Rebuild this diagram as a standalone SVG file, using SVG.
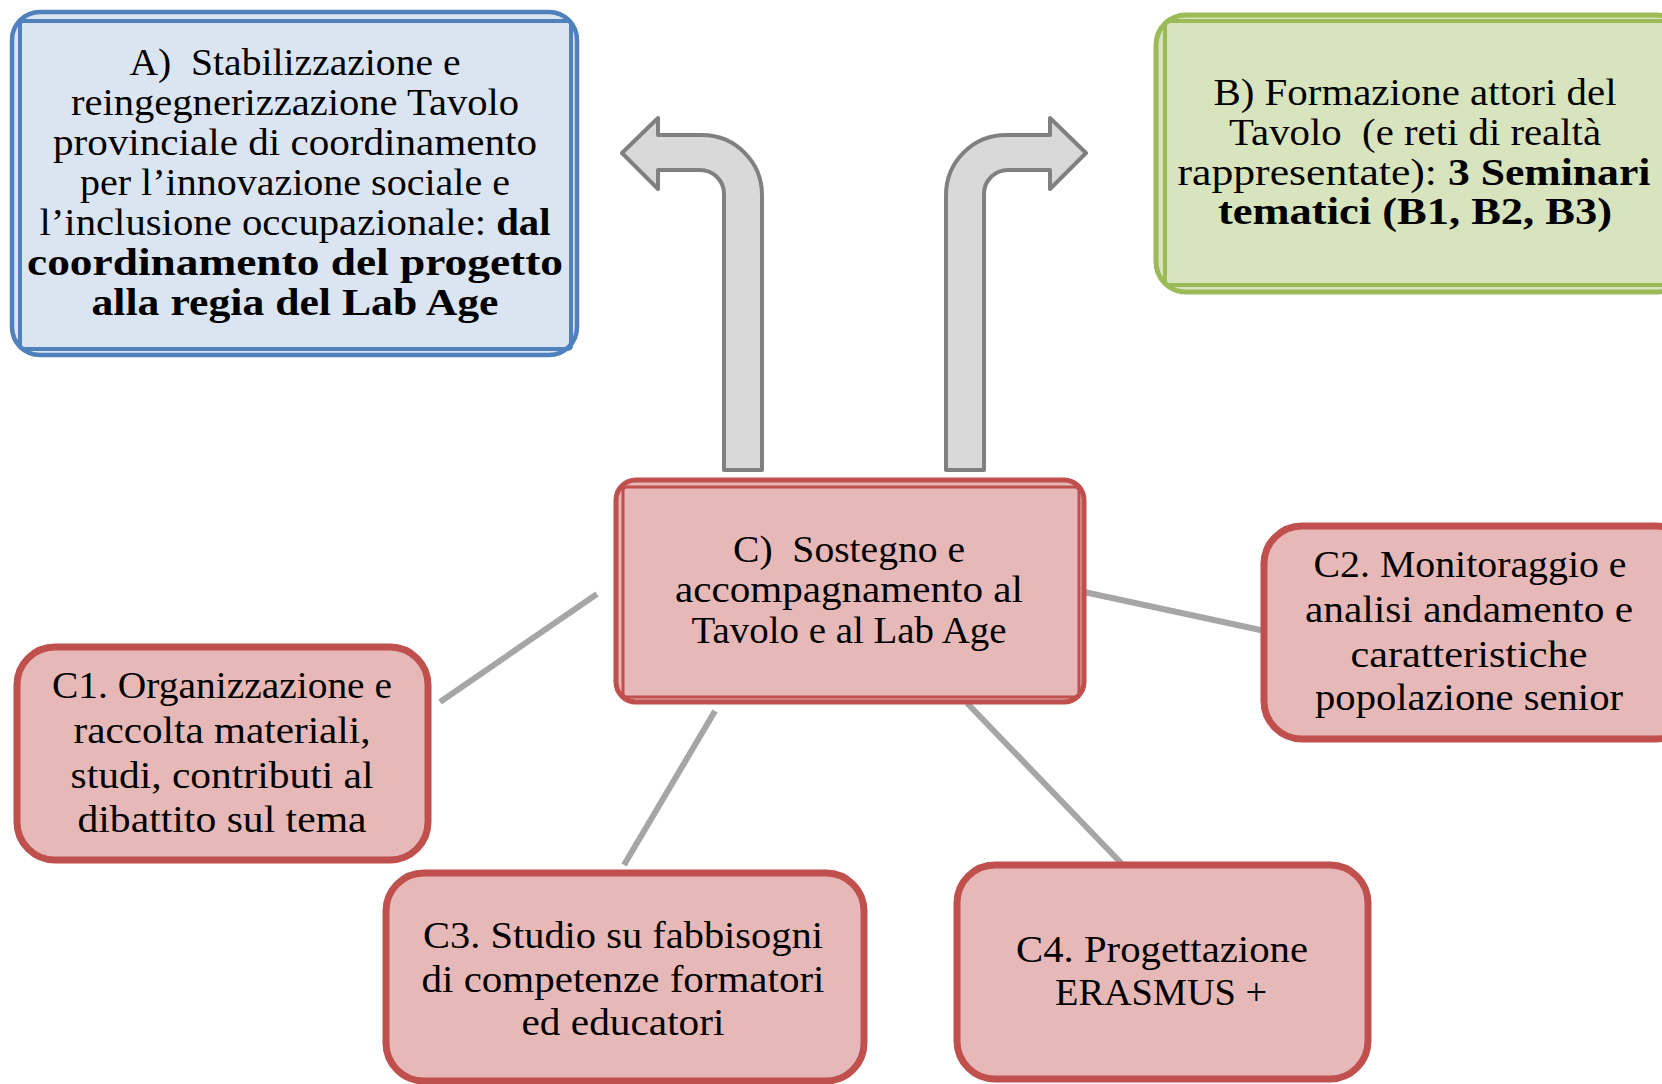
<svg xmlns="http://www.w3.org/2000/svg" width="1662" height="1084" viewBox="0 0 1662 1084">
<style>
text{font-family:"Liberation Serif","Times New Roman",serif;font-size:37px;fill:#000;text-anchor:middle}
.s{font-size:38px}
.b{font-weight:bold}
.conn{stroke:#A6A6A6;stroke-width:6;fill:none}
.arrow{fill:#D9D9D9;stroke:#808080;stroke-width:4;stroke-linejoin:round}
.redbox{fill:#E6B9B8;stroke:#C0504D;stroke-width:7}
</style>
<rect width="1662" height="1084" fill="#FFFFFF"/>
<g id="connectors">
<line class="conn" x1="597" y1="594" x2="440" y2="702"/>
<line class="conn" x1="1084" y1="592" x2="1265" y2="631"/>
<line class="conn" x1="715" y1="711" x2="624" y2="865"/>
<line class="conn" x1="967" y1="703" x2="1123" y2="865"/>
<path class="arrow" d="M724 470 L762 470 L762 195 A60 60 0 0 0 702 135 L658 135 L658 118 L622 153 L658 189 L658 170 L700 170 A24 24 0 0 1 724 194 Z"/>
<path class="arrow" d="M984 470 L946 470 L946 195 A60 60 0 0 1 1006 135 L1050 135 L1050 118 L1086 153 L1050 189 L1050 170 L1008 170 A24 24 0 0 0 984 194 Z"/>
</g>
<g id="nodeA">
<rect x="12" y="12" width="565" height="343" rx="28" fill="#DBE5F1" stroke="#4F81BD" stroke-width="4.5"/>
<rect x="20" y="21" width="551" height="328" rx="3" fill="none" stroke="#4F81BD" stroke-width="4"/>
<text x="295" y="75" xml:space="preserve" textLength="331" lengthAdjust="spacingAndGlyphs">A)  Stabilizzazione e</text>
<text x="295" y="115" textLength="448" lengthAdjust="spacingAndGlyphs">reingegnerizzazione Tavolo</text>
<text x="295" y="155" textLength="484" lengthAdjust="spacingAndGlyphs">provinciale di coordinamento</text>
<text x="295" y="195" textLength="430" lengthAdjust="spacingAndGlyphs">per l’innovazione sociale e</text>
<text x="295" y="235" xml:space="preserve" textLength="511" lengthAdjust="spacingAndGlyphs">l’inclusione occupazionale: <tspan class="b">dal</tspan></text>
<text x="295" y="275" class="b" textLength="536" lengthAdjust="spacingAndGlyphs">coordinamento del progetto</text>
<text x="295" y="315" class="b" textLength="407" lengthAdjust="spacingAndGlyphs">alla regia del Lab Age</text>
</g>
<g id="nodeB">
<rect x="1156" y="15" width="530" height="277" rx="30" fill="#D7E4BD" stroke="#9BBB59" stroke-width="5"/>
<rect x="1165" y="21" width="520" height="264" rx="3" fill="none" stroke="#9BBB59" stroke-width="4"/>
<text x="1415" y="105" textLength="403" lengthAdjust="spacingAndGlyphs">B) Formazione attori del</text>
<text x="1415" y="145" xml:space="preserve" textLength="372" lengthAdjust="spacingAndGlyphs">Tavolo  (e reti di realtà</text>
<text x="1414" y="185" xml:space="preserve" textLength="473" lengthAdjust="spacingAndGlyphs">rappresentate): <tspan class="b">3 Seminari</tspan></text>
<text x="1415" y="224" class="b" textLength="394" lengthAdjust="spacingAndGlyphs">tematici (B1, B2, B3)</text>
</g>
<g id="nodeC">
<rect x="616" y="480" width="468" height="222" rx="20" fill="#E6B9B8" stroke="#C0504D" stroke-width="5"/>
<rect x="623" y="487" width="456" height="210" rx="4" fill="none" stroke="#C0504D" stroke-width="3"/>
<text x="849" y="562" xml:space="preserve" textLength="232" lengthAdjust="spacingAndGlyphs">C)  Sostegno e</text>
<text x="849" y="602" textLength="348" lengthAdjust="spacingAndGlyphs">accompagnamento al</text>
<text x="849" y="643" textLength="315" lengthAdjust="spacingAndGlyphs">Tavolo e al Lab Age</text>
</g>
<g id="nodeC1">
<rect class="redbox" x="17" y="647" width="411" height="213" rx="38"/>
<text class="s" x="222" y="698" textLength="340" lengthAdjust="spacingAndGlyphs">C1. Organizzazione e</text>
<text class="s" x="222" y="743" textLength="297" lengthAdjust="spacingAndGlyphs">raccolta materiali,</text>
<text class="s" x="222" y="788" textLength="303" lengthAdjust="spacingAndGlyphs">studi, contributi al</text>
<text class="s" x="222" y="832" textLength="289" lengthAdjust="spacingAndGlyphs">dibattito sul tema</text>
</g>
<g id="nodeC2">
<rect class="redbox" x="1264" y="526" width="430" height="213" rx="38"/>
<text class="s" x="1470" y="577" textLength="313" lengthAdjust="spacingAndGlyphs">C2. Monitoraggio e</text>
<text class="s" x="1469" y="622" textLength="328" lengthAdjust="spacingAndGlyphs">analisi andamento e</text>
<text class="s" x="1469" y="667" textLength="237" lengthAdjust="spacingAndGlyphs">caratteristiche</text>
<text class="s" x="1469" y="710" textLength="308" lengthAdjust="spacingAndGlyphs">popolazione senior</text>
</g>
<g id="nodeC3">
<rect class="redbox" x="386" y="873" width="478" height="208" rx="38"/>
<text class="s" x="623" y="948" textLength="400" lengthAdjust="spacingAndGlyphs">C3. Studio su fabbisogni</text>
<text class="s" x="623" y="992" textLength="403" lengthAdjust="spacingAndGlyphs">di competenze formatori</text>
<text class="s" x="623" y="1035" textLength="203" lengthAdjust="spacingAndGlyphs">ed educatori</text>
</g>
<g id="nodeC4">
<rect class="redbox" x="957" y="865" width="411" height="214" rx="38"/>
<text class="s" x="1162" y="962" textLength="292" lengthAdjust="spacingAndGlyphs">C4. Progettazione</text>
<text class="s" x="1161" y="1005" textLength="212" lengthAdjust="spacingAndGlyphs">ERASMUS +</text>
</g>
</svg>
